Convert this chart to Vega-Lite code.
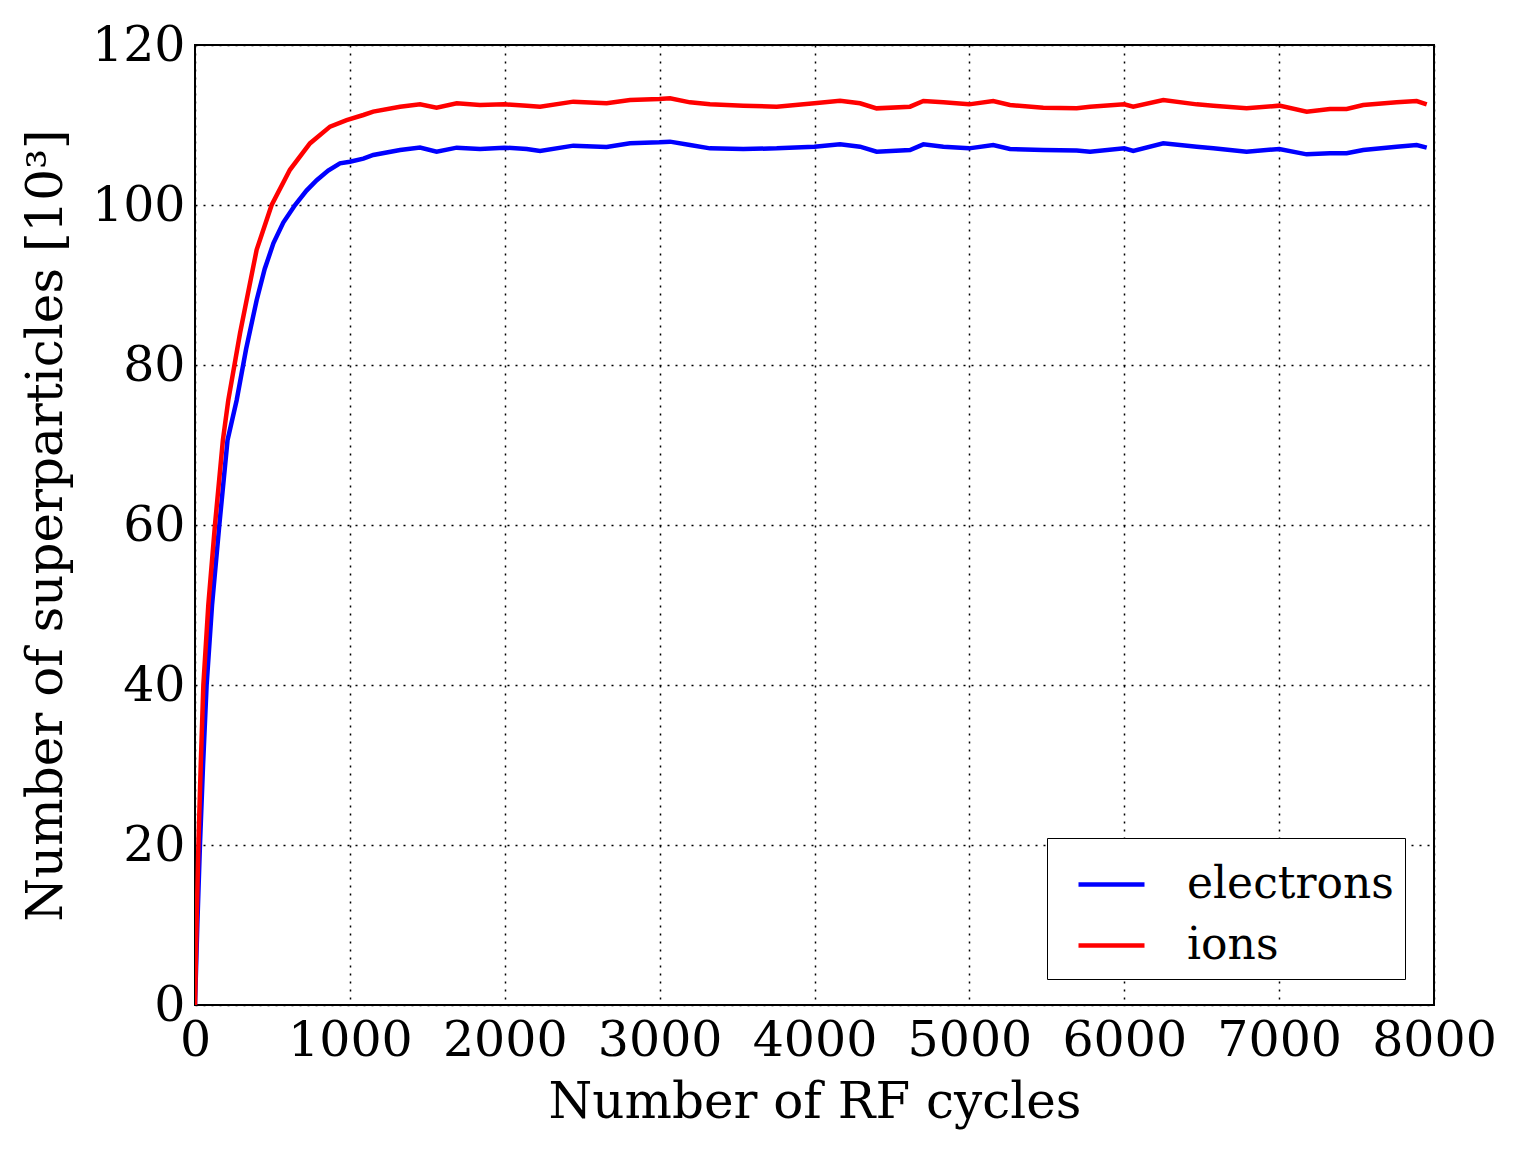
{
  "$schema": "https://vega.github.io/schema/vega-lite/v6.json",
  "autosize": "none",
  "width": 1239,
  "height": 960,
  "padding": {"left": 195, "top": 45, "right": 80, "bottom": 144},
  "background": "white",
  "config": {
    "font": "DejaVu Serif",
    "view": {"stroke": "black", "strokeWidth": 2},
    "axis": {
      "labelFont": "DejaVu Serif",
      "titleFont": "DejaVu Serif",
      "labelFontSize": 49,
      "titleFontSize": 50,
      "labelColor": "black",
      "titleColor": "black",
      "titleFontWeight": "normal",
      "domain": false,
      "ticks": false,
      "grid": true,
      "gridColor": "black",
      "gridWidth": 1.5,
      "gridOpacity": 1
    }
  },
  "data": {
    "values": [
      {"cycle": 0, "n": 0, "species": "electrons"},
      {"cycle": 15, "n": 10, "species": "electrons"},
      {"cycle": 32, "n": 20, "species": "electrons"},
      {"cycle": 52, "n": 30, "species": "electrons"},
      {"cycle": 75, "n": 40, "species": "electrons"},
      {"cycle": 110, "n": 50, "species": "electrons"},
      {"cycle": 157, "n": 60, "species": "electrons"},
      {"cycle": 210, "n": 70.6, "species": "electrons"},
      {"cycle": 269, "n": 75.6, "species": "electrons"},
      {"cycle": 330, "n": 82, "species": "electrons"},
      {"cycle": 398, "n": 88.1, "species": "electrons"},
      {"cycle": 450, "n": 92, "species": "electrons"},
      {"cycle": 506, "n": 95.2, "species": "electrons"},
      {"cycle": 570, "n": 97.8, "species": "electrons"},
      {"cycle": 646, "n": 100, "species": "electrons"},
      {"cycle": 720, "n": 101.8, "species": "electrons"},
      {"cycle": 786, "n": 103.1, "species": "electrons"},
      {"cycle": 860, "n": 104.3, "species": "electrons"},
      {"cycle": 936, "n": 105.2, "species": "electrons"},
      {"cycle": 1000, "n": 105.4, "species": "electrons"},
      {"cycle": 1087, "n": 105.8, "species": "electrons"},
      {"cycle": 1151, "n": 106.25, "species": "electrons"},
      {"cycle": 1324, "n": 106.88, "species": "electrons"},
      {"cycle": 1453, "n": 107.17, "species": "electrons"},
      {"cycle": 1560, "n": 106.67, "species": "electrons"},
      {"cycle": 1690, "n": 107.17, "species": "electrons"},
      {"cycle": 1840, "n": 107.0, "species": "electrons"},
      {"cycle": 1997, "n": 107.17, "species": "electrons"},
      {"cycle": 2142, "n": 107.0, "species": "electrons"},
      {"cycle": 2228, "n": 106.75, "species": "electrons"},
      {"cycle": 2443, "n": 107.42, "species": "electrons"},
      {"cycle": 2658, "n": 107.25, "species": "electrons"},
      {"cycle": 2809, "n": 107.71, "species": "electrons"},
      {"cycle": 2998, "n": 107.83, "species": "electrons"},
      {"cycle": 3067, "n": 107.92, "species": "electrons"},
      {"cycle": 3196, "n": 107.5, "species": "electrons"},
      {"cycle": 3325, "n": 107.08, "species": "electrons"},
      {"cycle": 3540, "n": 107.0, "species": "electrons"},
      {"cycle": 3756, "n": 107.08, "species": "electrons"},
      {"cycle": 3999, "n": 107.29, "species": "electrons"},
      {"cycle": 4165, "n": 107.58, "species": "electrons"},
      {"cycle": 4294, "n": 107.29, "species": "electrons"},
      {"cycle": 4401, "n": 106.67, "species": "electrons"},
      {"cycle": 4617, "n": 106.88, "species": "electrons"},
      {"cycle": 4703, "n": 107.58, "species": "electrons"},
      {"cycle": 4832, "n": 107.29, "species": "electrons"},
      {"cycle": 4998, "n": 107.08, "species": "electrons"},
      {"cycle": 5154, "n": 107.5, "species": "electrons"},
      {"cycle": 5262, "n": 107.0, "species": "electrons"},
      {"cycle": 5477, "n": 106.88, "species": "electrons"},
      {"cycle": 5693, "n": 106.8, "species": "electrons"},
      {"cycle": 5779, "n": 106.67, "species": "electrons"},
      {"cycle": 6000, "n": 107.08, "species": "electrons"},
      {"cycle": 6058, "n": 106.75, "species": "electrons"},
      {"cycle": 6252, "n": 107.71, "species": "electrons"},
      {"cycle": 6468, "n": 107.29, "species": "electrons"},
      {"cycle": 6575, "n": 107.08, "species": "electrons"},
      {"cycle": 6790, "n": 106.67, "species": "electrons"},
      {"cycle": 7001, "n": 107.0, "species": "electrons"},
      {"cycle": 7178, "n": 106.33, "species": "electrons"},
      {"cycle": 7328, "n": 106.46, "species": "electrons"},
      {"cycle": 7436, "n": 106.46, "species": "electrons"},
      {"cycle": 7543, "n": 106.88, "species": "electrons"},
      {"cycle": 7759, "n": 107.29, "species": "electrons"},
      {"cycle": 7888, "n": 107.5, "species": "electrons"},
      {"cycle": 7953, "n": 107.17, "species": "electrons"},

      {"cycle": 0, "n": 0, "species": "ions"},
      {"cycle": 10, "n": 10, "species": "ions"},
      {"cycle": 22, "n": 20, "species": "ions"},
      {"cycle": 37, "n": 30, "species": "ions"},
      {"cycle": 54, "n": 40, "species": "ions"},
      {"cycle": 86, "n": 50, "species": "ions"},
      {"cycle": 129, "n": 60, "species": "ions"},
      {"cycle": 180, "n": 70.6, "species": "ions"},
      {"cycle": 215, "n": 75.6, "species": "ions"},
      {"cycle": 291, "n": 84, "species": "ions"},
      {"cycle": 398, "n": 94.4, "species": "ions"},
      {"cycle": 495, "n": 100, "species": "ions"},
      {"cycle": 613, "n": 104.4, "species": "ions"},
      {"cycle": 742, "n": 107.7, "species": "ions"},
      {"cycle": 872, "n": 109.8, "species": "ions"},
      {"cycle": 979, "n": 110.6, "species": "ions"},
      {"cycle": 1087, "n": 111.25, "species": "ions"},
      {"cycle": 1151, "n": 111.67, "species": "ions"},
      {"cycle": 1324, "n": 112.29, "species": "ions"},
      {"cycle": 1453, "n": 112.58, "species": "ions"},
      {"cycle": 1560, "n": 112.17, "species": "ions"},
      {"cycle": 1690, "n": 112.71, "species": "ions"},
      {"cycle": 1840, "n": 112.5, "species": "ions"},
      {"cycle": 1997, "n": 112.58, "species": "ions"},
      {"cycle": 2142, "n": 112.42, "species": "ions"},
      {"cycle": 2228, "n": 112.29, "species": "ions"},
      {"cycle": 2443, "n": 112.92, "species": "ions"},
      {"cycle": 2658, "n": 112.71, "species": "ions"},
      {"cycle": 2809, "n": 113.13, "species": "ions"},
      {"cycle": 2998, "n": 113.25, "species": "ions"},
      {"cycle": 3067, "n": 113.33, "species": "ions"},
      {"cycle": 3196, "n": 112.83, "species": "ions"},
      {"cycle": 3325, "n": 112.58, "species": "ions"},
      {"cycle": 3540, "n": 112.42, "species": "ions"},
      {"cycle": 3756, "n": 112.29, "species": "ions"},
      {"cycle": 3999, "n": 112.71, "species": "ions"},
      {"cycle": 4165, "n": 113.04, "species": "ions"},
      {"cycle": 4294, "n": 112.71, "species": "ions"},
      {"cycle": 4401, "n": 112.08, "species": "ions"},
      {"cycle": 4617, "n": 112.29, "species": "ions"},
      {"cycle": 4703, "n": 113.0, "species": "ions"},
      {"cycle": 4832, "n": 112.83, "species": "ions"},
      {"cycle": 4998, "n": 112.58, "species": "ions"},
      {"cycle": 5154, "n": 113.0, "species": "ions"},
      {"cycle": 5262, "n": 112.5, "species": "ions"},
      {"cycle": 5477, "n": 112.17, "species": "ions"},
      {"cycle": 5693, "n": 112.1, "species": "ions"},
      {"cycle": 5779, "n": 112.29, "species": "ions"},
      {"cycle": 6000, "n": 112.58, "species": "ions"},
      {"cycle": 6058, "n": 112.29, "species": "ions"},
      {"cycle": 6252, "n": 113.13, "species": "ions"},
      {"cycle": 6468, "n": 112.58, "species": "ions"},
      {"cycle": 6575, "n": 112.42, "species": "ions"},
      {"cycle": 6790, "n": 112.08, "species": "ions"},
      {"cycle": 7001, "n": 112.42, "species": "ions"},
      {"cycle": 7178, "n": 111.67, "species": "ions"},
      {"cycle": 7328, "n": 112.0, "species": "ions"},
      {"cycle": 7436, "n": 112.0, "species": "ions"},
      {"cycle": 7543, "n": 112.5, "species": "ions"},
      {"cycle": 7759, "n": 112.83, "species": "ions"},
      {"cycle": 7888, "n": 113.0, "species": "ions"},
      {"cycle": 7953, "n": 112.58, "species": "ions"}
    ]
  },
  "mark": {"type": "line", "strokeWidth": 4.5, "clip": true},
  "encoding": {
    "x": {
      "field": "cycle",
      "type": "quantitative",
      "scale": {"domain": [0, 8000], "nice": false, "zero": false},
      "axis": {
        "title": "Number of RF cycles",
        "values": [0, 1000, 2000, 3000, 4000, 5000, 6000, 7000, 8000],
        "format": "d",
        "gridDash": [2, 6],
        "labelPadding": 11,
        "labelOverlap": false,
        "labelFlush": false,
        "titlePadding": 12
      }
    },
    "y": {
      "field": "n",
      "type": "quantitative",
      "scale": {"domain": [0, 120], "nice": false},
      "axis": {
        "title": "Number of superparticles [10³]",
        "values": [0, 20, 40, 60, 80, 100, 120],
        "gridDash": [2, 6],
        "labelPadding": 10,
        "labelOverlap": false,
        "labelFlush": false,
        "titlePadding": 20
      }
    },
    "color": {
      "field": "species",
      "type": "nominal",
      "scale": {"domain": ["electrons", "ions"], "range": ["#0000ff", "#ff0000"]},
      "legend": {
        "title": null,
        "orient": "none",
        "legendX": 852,
        "legendY": 793,
        "symbolType": "stroke",
        "symbolSize": 4356,
        "symbolStrokeWidth": 4.5,
        "symbolOffset": 18,
        "labelFont": "DejaVu Serif",
        "labelFontSize": 44,
        "labelColor": "black",
        "labelOffset": 40,
        "labelLimit": 0,
        "rowPadding": 3,
        "padding": 11,
        "strokeColor": "black",
        "fillColor": "white",
        "cornerRadius": 0
      }
    }
  }
}
